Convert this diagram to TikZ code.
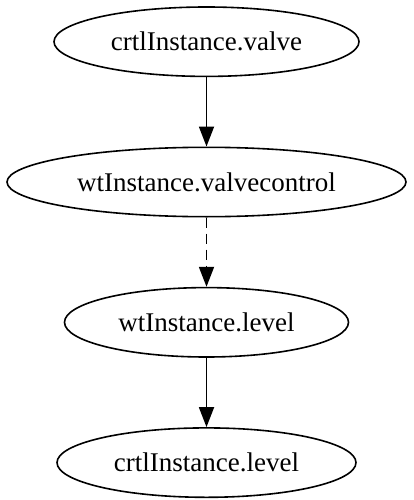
\documentclass[tikz,border=0pt]{standalone}
\usepackage{fontspec}
\setmainfont{Liberation Serif}
\usetikzlibrary{arrows.meta,positioning,shapes.geometric}

\begin{document}
\begin{tikzpicture}[
  x=1pt, y=1pt,
  font=\fontsize{27}{32}\selectfont,
  % Block styles
  port/.style={
    draw, ellipse, line width=1.6pt, inner sep=0pt,
    minimum height=69.4pt
  },
  arrow/.style={-{Triangle[length=20pt,width=15pt]}, line width=1.8pt},
  node distance=69.3pt
]

\useasboundingbox (0,0) rectangle (413,-500);

% ── Nodes ────────────────────────────────────────────────────────────────────
\node[port, minimum width=305pt] (valve) at (206.5,-41.7) {crtlInstance.valve};
\node[port, minimum width=399pt, below=of valve] (vctrl) {wtInstance.valvecontrol};
\node[port, minimum width=284pt, below=of vctrl] (wlevel) {wtInstance.level};
\node[port, minimum width=299pt, below=of wlevel] (clevel) {crtlInstance.level};

% ── Arrows ───────────────────────────────────────────────────────────────────
\draw[arrow] (valve.south) -- (vctrl.north);
\draw[arrow, dash pattern=on 10pt off 6pt] (vctrl.south) -- (wlevel.north);
\draw[arrow] (wlevel.south) -- (clevel.north);

\end{tikzpicture}
\end{document}
